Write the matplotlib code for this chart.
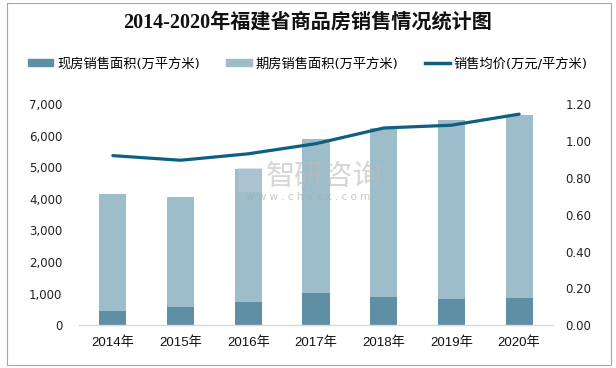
import matplotlib
matplotlib.use("Agg")
import matplotlib.pyplot as plt
from matplotlib.patches import Rectangle
from matplotlib.lines import Line2D
from matplotlib.ticker import FuncFormatter

plt.rcParams['font.family'] = ['DejaVu Sans', 'Noto Sans CJK SC']

years = ['2014年', '2015年', '2016年', '2017年', '2018年', '2019年', '2020年']
spot_area = [450, 580, 740, 1020, 900, 830, 860]          # 现房销售面积
future_area = [3700, 3480, 4210, 4875, 5345, 5665, 5795]  # 期房销售面积
avg_price = [0.92, 0.895, 0.93, 0.985, 1.07, 1.085, 1.145]  # 销售均价

title = '2014-2020年福建省商品房销售情况统计图'
legend_labels = ['现房销售面积(万平方米)', '期房销售面积(万平方米)', '销售均价(万元/平方米)']

c_dark = '#5E8FA5'
c_light = '#9EBDCB'
c_line = '#0E5F82'

fig = plt.figure(figsize=(6.16, 3.68), dpi=100)
ax = fig.add_axes([79/616, 1-325.3/368, 474/616, 221.3/368])
ax2 = ax.twinx()

x = list(range(len(years)))
ax.bar(x, spot_area, width=0.4, color=c_dark, zorder=2)
ax.bar(x, future_area, width=0.4, bottom=spot_area, color=c_light, zorder=2)
ax2.plot(x, avg_price, color=c_line, lw=2.3, solid_capstyle='round', zorder=3)

ax.set_xlim(-0.5, len(years) - 0.5)
ax.set_ylim(0, 7000)
ax.set_yticks(range(0, 7001, 1000))
ax.yaxis.set_major_formatter(FuncFormatter(lambda v, p: f'{int(v):,}'))
ax2.set_ylim(0, 1.2)
ax2.set_yticks([0, 0.2, 0.4, 0.6, 0.8, 1.0, 1.2])
ax2.yaxis.set_major_formatter(FuncFormatter(lambda v, p: f'{v:.2f}'))

ax.set_xticks(x)
ax.set_xticklabels(years, family=['Liberation Sans', 'Noto Sans CJK SC'], fontsize=9.5)

for a in (ax, ax2):
    for s in a.spines.values():
        s.set_visible(False)
ax.spines['bottom'].set_visible(True)
ax.spines['bottom'].set_color('#D9D9D9')
ax.spines['bottom'].set_linewidth(1.0)

ax.tick_params(axis='y', length=0, pad=12, labelsize=8.5, labelcolor='#222222')
ax2.tick_params(axis='y', length=0, pad=9, labelsize=8.5, labelcolor='#222222')
ax.tick_params(axis='x', length=0, pad=8, labelcolor='#111111')

# watermark
fig.patches.append(Rectangle((238/616, 1-192/368), 24/616, 24/368, transform=fig.transFigure,
                             facecolor='#B8C8D8', edgecolor='none', alpha=0.5, zorder=5))
fig.text(324/616, 1-177/368, '智研咨询', ha='center', va='center', fontsize=21,
         color='#BBBBBB', alpha=0.6, family='Noto Sans CJK SC', zorder=5)
fig.text(308/616, 1-197/368, 'w w w . c h y x x . c o m', ha='center', va='center', fontsize=7.5,
         color='#AAAAAA', alpha=0.65, zorder=5)

fig.text(0.5, 1-23/368, title, ha='center', va='center', fontsize=14.5, fontweight='bold',
         family=['Liberation Serif', 'Noto Sans CJK SC'], color='#111111')

handles = [Rectangle((0, 0), 1, 1, color=c_dark),
           Rectangle((0, 0), 1, 1, color=c_light),
           Line2D([0], [0], color=c_line, lw=2.5)]
fig.legend(handles, legend_labels, loc='center', bbox_to_anchor=(0.5, 1-64/368),
           ncol=3, frameon=False, handlelength=1.9, handleheight=0.45,
           columnspacing=2.0, handletextpad=0.3,
           prop={'family': ['DejaVu Sans', 'Noto Sans CJK SC'], 'size': 9.5})

fig.patches.append(Rectangle((6.5/616, 3/368), 604.5/616, 362/368, transform=fig.transFigure,
                             fill=False, edgecolor='#A6A6A6', lw=0.8))

fig.savefig('out.png', dpi=100)
